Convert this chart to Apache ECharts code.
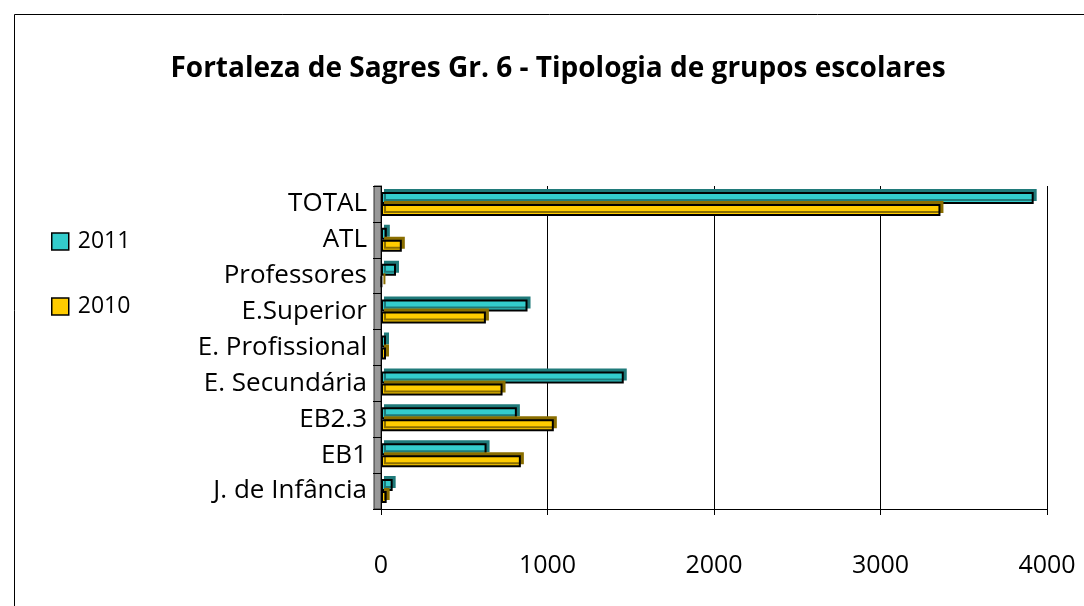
<!DOCTYPE html>
<html><head><meta charset="utf-8">
<script src="https://cdn.jsdelivr.net/npm/echarts@6/dist/echarts.min.js"></script>
<style>html,body{margin:0;padding:0;background:#fff}#c{width:1084px;height:606px}</style>
</head><body><div id="c"></div>
<script>
const categories = ['J. de Infância','EB1','EB2.3','E. Secundária','E. Profissional','E.Superior','Professores','ATL','TOTAL'];
const values2011 = [70, 634, 816, 1458, 30, 880, 90, 35, 3920];
const values2010 = [34, 840, 1038, 730, 30, 630, 5, 125, 3360];
const xTicks = [0, 1000, 2000, 3000, 4000];
const FONT = '"Open Sans", "Noto Sans", sans-serif';

const chart = echarts.init(document.getElementById('c'));
chart.setOption({
  backgroundColor: '#fff',
  animation: false,
  title: {
    text: 'Fortaleza de Sagres Gr. 6 - Tipologia de grupos escolares',
    left: 553, top: 50, textAlign: 'center',
    textStyle: { fontFamily: FONT, fontSize: 28, fontWeight: 'bold', color: '#000' }
  },
  graphic: [{
    type: 'rect', shape: { x: 14.5, y: 14.5, width: 1200, height: 800 },
    style: { fill: 'none', stroke: '#000', lineWidth: 1 }, silent: true, z: -1
  }, {
    type: 'rect', shape: { x: 374, y: 186, width: 7, height: 323 },
    style: { fill: '#999', stroke: '#333', lineWidth: 1 }, silent: true, z: -1
  }],
  legend: {
    orient: 'vertical', left: 46, top: 225, itemGap: 42,
    itemWidth: 17, itemHeight: 17, icon: 'rect',
    data: ['2011', '2010'],
    itemStyle: { borderColor: '#000', borderWidth: 1.5 },
    textStyle: { fontFamily: FONT, fontSize: 23, color: '#000', padding: [0, 0, 0, 4] }
  },
  grid: { left: 381, right: 37, top: 186, bottom: 97 },
  xAxis: {
    type: 'value', min: 0, max: 4000, interval: 1000,
    axisLine: { show: true, lineStyle: { color: '#000', width: 1 } },
    axisTick: { show: true, length: 6, lineStyle: { color: '#000' } },
    axisLabel: {
      fontFamily: FONT, fontSize: 25, color: '#000', margin: 44,
      formatter: v => xTicks.includes(v) ? String(v) : ''
    },
    splitLine: { show: true, lineStyle: { color: '#000', width: 1 } }
  },
  yAxis: {
    type: 'category', data: categories,
    axisLine: { show: true, lineStyle: { color: '#000' } },
    axisTick: { show: true, length: 8, lineStyle: { color: '#000' } },
    axisLabel: { fontFamily: FONT, fontSize: 26, color: '#000', margin: 14 }
  },
  series: [{
    name: '2011', type: 'bar', data: values2011, barWidth: 12, barGap: '0%',
    itemStyle: { color: '#33CCCC', borderColor: '#000', borderWidth: 2,
      shadowColor: '#1f7a7a', shadowOffsetX: 3, shadowOffsetY: -3, shadowBlur: 0 }
  }, {
    name: '2010', type: 'bar', data: values2010, barWidth: 12,
    itemStyle: { color: '#FFCC00', borderColor: '#000', borderWidth: 2,
      shadowColor: '#8a6e00', shadowOffsetX: 3, shadowOffsetY: -3, shadowBlur: 0 }
  }]
});
</script></body></html>
